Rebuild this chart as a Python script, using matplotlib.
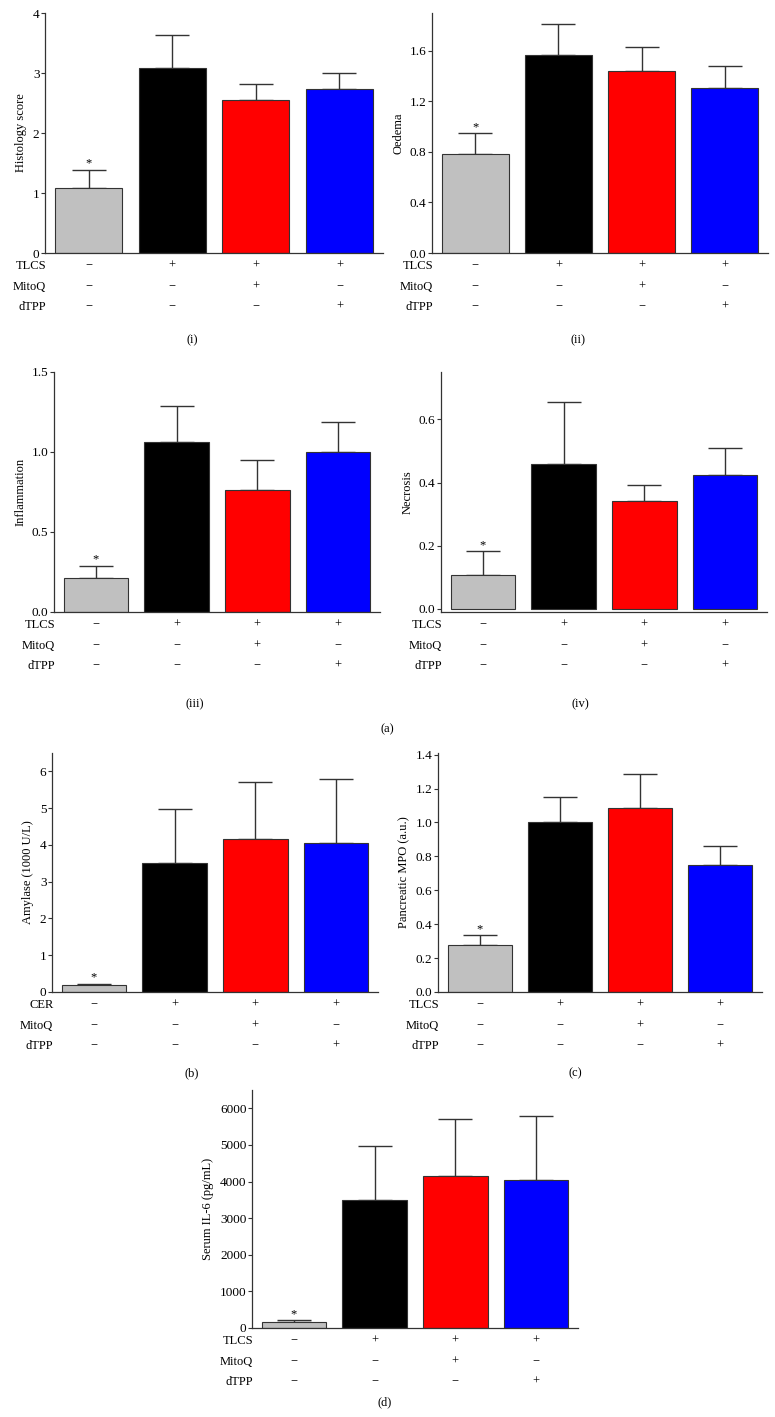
import numpy as np
import matplotlib
matplotlib.use('Agg')
import matplotlib.pyplot as plt

plt.rcParams['font.family'] = ['Liberation Serif', 'DejaVu Serif']
plt.rcParams['font.size'] = 9

W, H = 775, 1417
PX2PT = 72 / 100
BAR_COLORS = ['#c0c0c0', '#000000', '#ff0000', '#0000ff']

# treatment table under each panel
tlcs = ['−', '+', '+', '+']
mitoq = ['−', '−', '+', '−']
dtpp = ['−', '−', '−', '+']

# mean and upper SEM for each group (control, TLCS, TLCS+MitoQ, TLCS+dTPP)
histology = [1.08, 3.09, 2.55, 2.74]
histology_err = [0.31, 0.54, 0.26, 0.26]
oedema = [0.78, 1.57, 1.44, 1.31]
oedema_err = [0.17, 0.24, 0.19, 0.17]
inflammation = [0.21, 1.06, 0.76, 1.00]
inflammation_err = [0.08, 0.23, 0.19, 0.19]
necrosis = [0.107, 0.458, 0.341, 0.424]
necrosis_err = [0.076, 0.196, 0.051, 0.084]
amylase = [0.18, 3.50, 4.16, 4.05]
amylase_err = [0.05, 1.47, 1.55, 1.74]
mpo = [0.28, 1.00, 1.087, 0.752]
mpo_err = [0.057, 0.151, 0.201, 0.11]
il6 = [164, 3491, 4164, 4036]
il6_err = [45, 1473, 1536, 1746]

fig = plt.figure(figsize=(W / 100, H / 100), dpi=100)


def rect(l, t, r, b):
    return [l / W, 1 - b / H, (r - l) / W, (b - t) / H]


def panel(box, mean, err, ylabel, yticks, yticklabels, ylim, first='TLCS'):
    ax = fig.add_axes(rect(*box))
    x = np.arange(len(mean))
    ax.errorbar(x, mean, yerr=[np.zeros(len(err)), err], fmt='none',
                ecolor='#333333', elinewidth=1, capsize=12, capthick=1, zorder=1)
    ax.bar(x, mean, width=0.8, color=BAR_COLORS, edgecolor='#333333',
           linewidth=0.8, zorder=2)
    ax.annotate('*', xy=(0, mean[0] + err[0]), xytext=(0, 0),
                textcoords='offset points', ha='center', va='bottom', fontsize=9)
    ax.set_xlim(-0.52, 3.52)
    ax.set_ylim(*ylim)
    ax.set_yticks(yticks)
    ax.set_yticklabels(yticklabels)
    ax.set_xticks([])
    ax.set_ylabel(ylabel, fontsize=9)
    for s in ['top', 'right']:
        ax.spines[s].set_visible(False)
    for s in ['left', 'bottom']:
        ax.spines[s].set_color('#333333')
        ax.spines[s].set_linewidth(0.9)
    ax.tick_params(axis='y', direction='out', length=3, width=0.8,
                   color='#333333', labelsize=9.5, pad=1)
    rows = [(first, tlcs, 13), ('MitoQ', mitoq, 34), ('dTPP', dtpp, 54)]
    for name, signs, off in rows:
        ax.annotate(name, xy=(0, 0), xycoords='axes fraction',
                    xytext=(1, -off * PX2PT), textcoords='offset points',
                    ha='right', va='center', fontsize=9)
        for xi, sg in zip(x, signs):
            ax.annotate(sg, xy=(xi, 0), xycoords=('data', 'axes fraction'),
                        xytext=(0, -off * PX2PT), textcoords='offset points',
                        ha='center', va='center', fontsize=9)
    return ax


panel((45, 13, 383, 253), histology, histology_err, 'Histology score',
      [0, 1, 2, 3, 4], ['0', '1', '2', '3', '4'], (0, 4))
panel((432, 13, 768, 253), oedema, oedema_err, 'Oedema',
      [0, 0.4, 0.8, 1.2, 1.6], ['0.0', '0.4', '0.8', '1.2', '1.6'], (0, 1.9))
panel((54, 372, 380, 612), inflammation, inflammation_err, 'Inflammation',
      [0, 0.5, 1.0, 1.5], ['0.0', '0.5', '1.0', '1.5'], (0, 1.5))
panel((441, 372, 767, 612), necrosis, necrosis_err, 'Necrosis',
      [0, 0.2, 0.4, 0.6], ['0.0', '0.2', '0.4', '0.6'], (-0.01, 0.75))
panel((52, 753, 378, 992), amylase, amylase_err, 'Amylase (1000 U/L)',
      [0, 1, 2, 3, 4, 5, 6], ['0', '1', '2', '3', '4', '5', '6'], (0, 6.5),
      first='CER')
panel((438, 753, 762, 992), mpo, mpo_err, 'Pancreatic MPO (a.u.)',
      [0, 0.2, 0.4, 0.6, 0.8, 1.0, 1.2, 1.4],
      ['0.0', '0.2', '0.4', '0.6', '0.8', '1.0', '1.2', '1.4'], (0, 1.41))
panel((252, 1090, 578, 1328), il6, il6_err, 'Serum IL-6 (pg/mL)',
      [0, 1000, 2000, 3000, 4000, 5000, 6000],
      ['0', '1000', '2000', '3000', '4000', '5000', '6000'], (0, 6500))

for lab, px, py in [('(i)', 192, 340), ('(ii)', 578, 340), ('(iii)', 195, 704),
                    ('(iv)', 580, 704), ('(a)', 387, 729), ('(b)', 192, 1073),
                    ('(c)', 575, 1073), ('(d)', 385, 1402)]:
    fig.text(px / W, 1 - py / H, lab, ha='center', va='center', fontsize=9)

fig.savefig('out.png', dpi=100)
